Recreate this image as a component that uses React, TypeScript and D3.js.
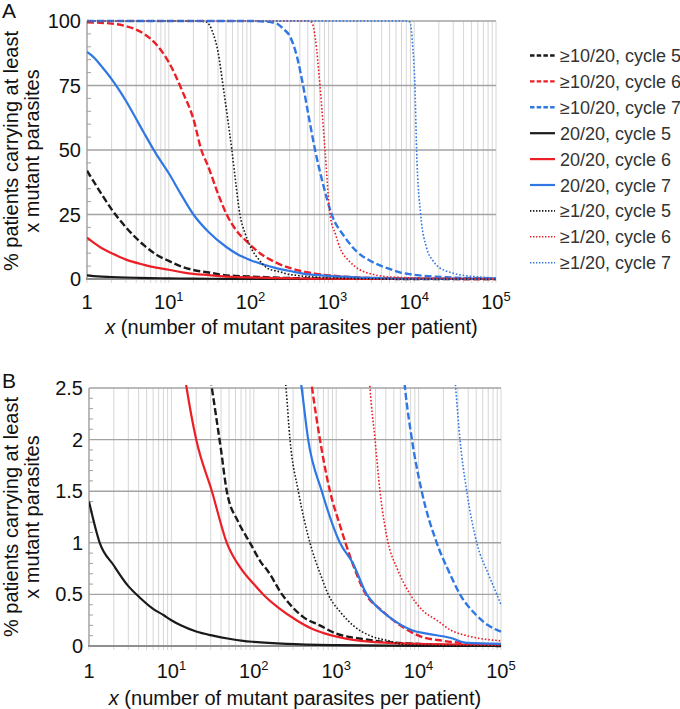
import React from 'react';
import * as d3 from 'd3';

type Pt = [number, number];

// ≥10/20 (dashed)
const dashCycle5: Pt[] = [[1,42],[1.5,33],[2,27],[3,20],[5,13],[7,9.5],[10,7],[15,4.6],[20,3.5],[31,2.5],[40,1.9],[47,1.5],[65,1.2],[90,1.0],[120,0.82],[150,0.72],[220,0.5],[300,0.37],[400,0.28],[630,0.2],[1000,0.12],[2000,0.07],[3000,0.05],[10000,0.02],[100000,0]];
const dashCycle6: Pt[] = [[1,99.5],[2,99],[3,98],[5,95],[7,91],[10,84],[15,72],[20,62],[25,50],[30,44],[40,33],[51,25],[70,18],[90,14.5],[130,10],[200,6.5],[300,4.3],[400,3.2],[510,2.5],[635,2.0],[840,1.5],[1110,1.17],[1500,0.85],[2300,0.5],[3500,0.35],[6000,0.2],[10000,0.1],[20000,0.05],[50000,0.02],[100000,0.01]];
const dashCycle7: Pt[] = [[1,100],[100,100],[150,99.8],[209,99],[250,97],[303,94],[370,86],[438,75],[520,62],[614,50],[780,36],[980,25],[1400,16.5],[1990,10.6],[3000,6.8],[5000,3.9],[6840,2.5],[8300,2.0],[10900,1.5],[16600,1.0],[24000,0.7],[31800,0.5],[50000,0.3],[70000,0.2],[100000,0.14]];
// 20/20 (solid)
const solidCycle5: Pt[] = [[1,1.4],[1.35,1.0],[2,0.78],[3,0.58],[4,0.48],[6,0.36],[8,0.3],[10,0.25],[13,0.2],[20,0.14],[32,0.1],[50,0.07],[74,0.05],[100,0.04],[250,0.02],[1000,0.008],[10000,0.002],[100000,0]];
const solidCycle6: Pt[] = [[1,16],[1.5,12],[2,10],[3,7.5],[5,5.5],[7,4.4],[10,3.6],[15.3,2.5],[20,2.0],[31,1.5],[47,1.0],[70,0.75],[100,0.6],[130,0.5],[200,0.37],[330,0.25],[500,0.17],[900,0.1],[2000,0.05],[10000,0.02],[100000,0.01]];
const solidCycle7: Pt[] = [[1,88],[1.25,85.5],[1.5,82.5],[2,77.5],[2.5,73],[3,69],[4,62],[5,56.5],[7,48.5],[10,41],[14,33],[20,25],[30,18.5],[50,12.5],[70,9.5],[100,7.3],[150,5.4],[200,4.3],[300,3.1],[381,2.5],[457,2.0],[669,1.5],[1110,1.0],[1600,0.8],[2350,0.5],[2960,0.4],[4100,0.3],[6250,0.2],[8500,0.15],[12600,0.12],[24000,0.08],[38500,0.03],[100000,0.02]];
// ≥1/20 (dotted)
const dotCycle5: Pt[] = [[1,100],[20,100],[28,99.8],[35,95],[40,88],[46,75],[52,63],[59,50],[66,37],[74,25],[85,18],[98,13],[130,7],[158,4.3],[200,3.2],[246,2.5],[275,2.0],[347,1.5],[480,1.0],[640,0.7],[800,0.5],[1120,0.33],[1600,0.2],[2560,0.1],[4400,0.05],[7200,0.01],[100000,0]];
const dotCycle6: Pt[] = [[1,100],[500,100],[558,99.5],[620,93],[705,75],[812,50],[935,25],[1100,17],[1240,12],[1600,7],[1990,4.3],[2570,2.5],[2960,2.0],[3400,1.5],[4270,1.0],[5500,0.75],[7900,0.5],[11000,0.35],[16600,0.25],[25000,0.15],[38400,0.1],[100000,0.05]];
const dotCycle7: Pt[] = [[1,100],[8000,100],[8900,99.5],[9600,90],[10200,75],[10700,50],[12000,25],[14200,12],[17000,7],[20500,4.3],[24000,3.2],[28200,2.5],[31800,2.0],[38400,1.5],[50800,1.0],[70000,0.7],[89000,0.5],[100000,0.4]];

const legendLabels = ['≥10/20, cycle 5','≥10/20, cycle 6','≥10/20, cycle 7','20/20, cycle 5','20/20, cycle 6','20/20, cycle 7','≥1/20, cycle 5','≥1/20, cycle 6','≥1/20, cycle 7'];
const xTickExponents = [0, 1, 2, 3, 4, 5];
const yTicksA = [0, 25, 50, 75, 100];
const yTicksB = [0, 0.5, 1, 1.5, 2, 2.5];

const BLACK = '#1a1a1a';
const RED = '#ec1f26';
const BLUE = '#2f78e4';
const FONT = '"Liberation Sans", Arial, sans-serif';

type Kind = 'dash' | 'solid' | 'dot';
const seriesList: { label: string; color: string; kind: Kind; data: Pt[] }[] = [
  { label: legendLabels[0], color: BLACK, kind: 'dash', data: dashCycle5 },
  { label: legendLabels[1], color: RED, kind: 'dash', data: dashCycle6 },
  { label: legendLabels[2], color: BLUE, kind: 'dash', data: dashCycle7 },
  { label: legendLabels[3], color: BLACK, kind: 'solid', data: solidCycle5 },
  { label: legendLabels[4], color: RED, kind: 'solid', data: solidCycle6 },
  { label: legendLabels[5], color: BLUE, kind: 'solid', data: solidCycle7 },
  { label: legendLabels[6], color: BLACK, kind: 'dot', data: dotCycle5 },
  { label: legendLabels[7], color: RED, kind: 'dot', data: dotCycle6 },
  { label: legendLabels[8], color: BLUE, kind: 'dot', data: dotCycle7 },
];

const styleFor = (kind: Kind, legend = false) => {
  if (kind === 'dash') return { strokeWidth: 2.4, strokeDasharray: legend ? '4.5,2.2' : '7,3' };
  if (kind === 'solid') return { strokeWidth: 2.2, strokeDasharray: undefined };
  return { strokeWidth: 1.6, strokeDasharray: legend ? '1.4,1.6' : '1.6,1.9' };
};

interface PanelProps {
  id: string; letter: string; letterY: number;
  x0: number; x1: number; yTop: number; yBot: number;
  yMax: number; yTicks: number[]; minorStep: number;
  tickBaseline: number; titleBaseline: number; yTitleCenter: number;
}

function Panel(p: PanelProps) {
  const x = d3.scaleLog().domain([1, 1e5]).range([p.x0, p.x1]);
  const y = d3.scaleLinear().domain([0, p.yMax]).range([p.yBot, p.yTop]);
  const line = d3.line<Pt>().x(d => x(d[0])).y(d => y(d[1])).curve(d3.curveMonotoneX);
  const vLines: number[] = [];
  for (let k = 0; k < 5; k++) for (let m = 1; m <= 9; m++) vLines.push(m * Math.pow(10, k));
  vLines.push(1e5);
  const minors = d3.range(0, p.yMax + 1e-9, p.minorStep).filter(v => !p.yTicks.some(t => Math.abs(t - v) < 1e-9));
  const cx = (p.x0 + p.x1) / 2;
  return (
    <g>
      <defs>
        <clipPath id={p.id}>
          <rect x={p.x0} y={p.yTop - 3} width={p.x1 - p.x0 + 2} height={p.yBot - p.yTop + 6} />
        </clipPath>
      </defs>
      <text x={2} y={p.letterY} fontSize={21} fill="#111">{p.letter}</text>
      {vLines.map((v, i) => (
        <line key={'v' + i} x1={x(v)} x2={x(v)} y1={p.yTop} y2={p.yBot + 4} stroke="#d6d6d6" strokeWidth={1} />
      ))}
      {p.yTicks.filter(t => t > 0).map((t, i) => (
        <line key={'h' + i} x1={p.x0} x2={p.x1} y1={y(t)} y2={y(t)} stroke="#a3a3a3" strokeWidth={1.4} />
      ))}
      {minors.map((t, i) => (
        <line key={'m' + i} x1={p.x0} x2={p.x0 + 4} y1={y(t)} y2={y(t)} stroke="#a3a3a3" strokeWidth={1} />
      ))}
      <line x1={p.x0} x2={p.x0} y1={p.yTop} y2={p.yBot} stroke="#9a9a9a" strokeWidth={1.2} />
      <line x1={p.x0 - 1} x2={p.x1} y1={p.yBot} y2={p.yBot} stroke="#8f8f8f" strokeWidth={2} />
      <g clipPath={`url(#${p.id})`}>
        {seriesList.map((s, i) => {
          const st = styleFor(s.kind);
          return (
            <path key={'s' + i} d={line(s.data) || ''} fill="none" stroke={s.color}
              strokeWidth={st.strokeWidth} strokeDasharray={st.strokeDasharray} strokeLinejoin="round" />
          );
        })}
      </g>
      {p.yTicks.map((t, i) => (
        <text key={'yt' + i} x={p.x0 - 6} y={y(t) + 7} textAnchor="end" fontSize={20} fill="#111">{String(t)}</text>
      ))}
      {xTickExponents.map((e, i) => (
        <text key={'xt' + i} x={x(Math.pow(10, e))} y={p.tickBaseline} textAnchor="middle" fontSize={20} fill="#111">
          {e === 0 ? '1' : (<><tspan>10</tspan><tspan dy={-8} fontSize={13}>{String(e)}</tspan></>)}
        </text>
      ))}
      <text x={cx} y={p.titleBaseline} textAnchor="middle" fontSize={20} fill="#111">
        <tspan fontStyle="italic">x</tspan> (number of mutant parasites per patient)
      </text>
      <text transform={`translate(17.5,${p.yTitleCenter}) rotate(-90)`} textAnchor="middle" fontSize={20} fill="#111">% patients carrying at least</text>
      <text transform={`translate(38.5,${p.yTitleCenter}) rotate(-90)`} textAnchor="middle" fontSize={20} fill="#111">x mutant parasites</text>
    </g>
  );
}

export default function App() {
  return (
    <svg width={680} height={709} style={{ position: 'absolute', left: 0, top: 0, background: '#fff' }}
      fontFamily={FONT}>
      <rect x={0} y={0} width={680} height={709} fill="#fff" />
      <Panel id="clipA" letter="A" letterY={18} x0={87} x1={496} yTop={21} yBot={279} yMax={100}
        yTicks={yTicksA} minorStep={5} tickBaseline={309} titleBaseline={334} yTitleCenter={151} />
      <Panel id="clipB" letter="B" letterY={388} x0={89} x1={501} yTop={388} yBot={646} yMax={2.5}
        yTicks={yTicksB} minorStep={0.1} tickBaseline={678} titleBaseline={705} yTitleCenter={517} />
      <g>
        {seriesList.map((s, i) => {
          const cy = 55.5 + i * 25.9;
          const st = styleFor(s.kind, true);
          return (
            <g key={'lg' + i}>
              <line x1={530} x2={555} y1={cy} y2={cy} stroke={s.color} strokeWidth={st.strokeWidth}
                strokeDasharray={st.strokeDasharray} />
              <text x={560} y={cy + 6.5} fontSize={18} fill="#333">{s.label}</text>
            </g>
          );
        })}
      </g>
    </svg>
  );
}
